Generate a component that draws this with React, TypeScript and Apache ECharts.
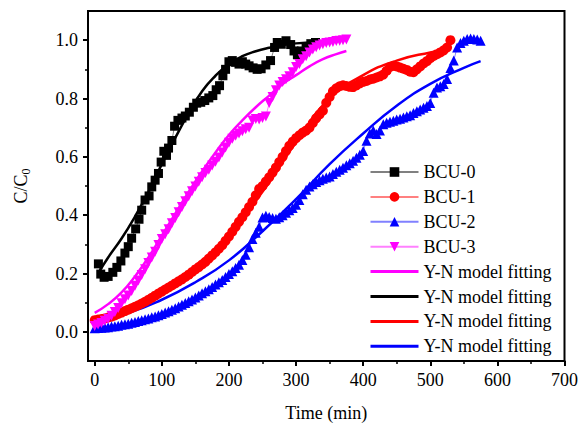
import React, { useEffect, useRef } from 'react';
import * as echarts from 'echarts';

// ---- tick labels ----
const xMajorTicks = [0, 100, 200, 300, 400, 500, 600, 700];
const xMinorTicks = [50, 150, 250, 350, 450, 550, 650];
const yMajorTicks = [0, 0.2, 0.4, 0.6, 0.8, 1.0];
const yMinorTicks = [0.1, 0.3, 0.5, 0.7, 0.9];

// ---- measured data [time (min), C/C0] ----
const bcu0: [number, number][] = [
  [5.5, 0.233], [9, 0.198], [14, 0.187], [20, 0.19], [27, 0.204], [33, 0.221], [39, 0.243], [45, 0.27],
  [50, 0.292], [55, 0.321], [61, 0.353], [66, 0.386], [70, 0.417], [75, 0.452], [81, 0.466], [85, 0.497],
  [90, 0.52], [95, 0.543], [99, 0.582], [103, 0.619], [107, 0.605], [110, 0.63], [115, 0.656], [119, 0.705],
  [124, 0.725], [130, 0.733], [135, 0.74], [141, 0.753], [147, 0.77], [152, 0.784], [158, 0.787], [164, 0.793],
  [170, 0.802], [176, 0.81], [181, 0.83], [186, 0.844], [191, 0.878], [195, 0.9], [200, 0.926], [205, 0.93],
  [210, 0.924], [215, 0.918], [220, 0.926], [225, 0.918], [230, 0.912], [236, 0.905], [242, 0.9], [248, 0.902],
  [255, 0.915], [262, 0.93], [268, 0.975], [272, 0.992], [278, 0.986], [285, 0.998], [292, 0.985], [297, 0.963],
  [302, 0.95], [308, 0.963], [315, 0.978], [322, 0.988], [329, 0.992],
];

const bcu1: [number, number][] = [
  [0, 0.04], [5, 0.042], [10, 0.044], [15, 0.046], [20, 0.049], [25, 0.052], [30, 0.056], [35, 0.061],
  [40, 0.066], [45, 0.071], [50, 0.076], [55, 0.081], [60, 0.086], [65, 0.091], [70, 0.097], [75, 0.103],
  [80, 0.11], [85, 0.117], [90, 0.124], [95, 0.131], [100, 0.138], [105, 0.145], [110, 0.152], [115, 0.159],
  [120, 0.166], [125, 0.173], [130, 0.18], [135, 0.188], [140, 0.196], [145, 0.205], [150, 0.214], [155, 0.222],
  [160, 0.231], [165, 0.24], [170, 0.251], [175, 0.262], [180, 0.273], [185, 0.285], [190, 0.297], [195, 0.312],
  [200, 0.327], [205, 0.343], [210, 0.36], [215, 0.377], [220, 0.393], [225, 0.41], [230, 0.428], [235, 0.446],
  [240, 0.468], [245, 0.49], [250, 0.5], [255, 0.515], [260, 0.53], [265, 0.546], [270, 0.563], [275, 0.582],
  [280, 0.6], [285, 0.62], [290, 0.638], [295, 0.652], [300, 0.664], [305, 0.674], [310, 0.683], [315, 0.69],
  [320, 0.7], [325, 0.716], [330, 0.732], [335, 0.745], [340, 0.758], [345, 0.785], [350, 0.805], [355, 0.825],
  [360, 0.835], [365, 0.842], [370, 0.845], [375, 0.843], [380, 0.84], [385, 0.839], [390, 0.845], [395, 0.852],
  [400, 0.857], [405, 0.86], [410, 0.865], [415, 0.868], [420, 0.872], [425, 0.876], [430, 0.882], [435, 0.895],
  [440, 0.908], [445, 0.912], [450, 0.91], [455, 0.906], [460, 0.902], [465, 0.898], [470, 0.892], [475, 0.89],
  [480, 0.9], [485, 0.91], [490, 0.92], [495, 0.928], [500, 0.938], [505, 0.946], [510, 0.952], [515, 0.958],
  [520, 0.965], [525, 0.975], [530, 1.0],
];

const bcu2: [number, number][] = [
  [0, 0.012], [5, 0.013], [10, 0.014], [15, 0.015], [20, 0.016], [25, 0.018], [30, 0.019], [35, 0.021],
  [40, 0.024], [45, 0.026], [50, 0.028], [55, 0.031], [60, 0.034], [65, 0.037], [70, 0.04], [75, 0.043],
  [80, 0.046], [85, 0.05], [90, 0.053], [95, 0.057], [100, 0.061], [105, 0.066], [110, 0.071], [115, 0.076],
  [120, 0.081], [125, 0.087], [130, 0.093], [135, 0.099], [140, 0.105], [145, 0.111], [150, 0.118], [155, 0.125],
  [160, 0.132], [165, 0.139], [170, 0.146], [175, 0.154], [180, 0.162], [185, 0.17], [190, 0.178], [195, 0.188],
  [200, 0.198], [205, 0.208], [210, 0.219], [215, 0.23], [220, 0.246], [225, 0.264], [230, 0.29], [235, 0.318],
  [240, 0.34], [245, 0.36], [250, 0.392], [255, 0.398], [260, 0.394], [265, 0.39], [270, 0.388], [275, 0.393],
  [280, 0.4], [285, 0.408], [290, 0.417], [295, 0.425], [300, 0.436], [305, 0.452], [310, 0.472], [315, 0.487],
  [320, 0.498], [325, 0.506], [330, 0.514], [335, 0.52], [340, 0.525], [345, 0.529], [350, 0.533], [355, 0.541],
  [360, 0.549], [365, 0.556], [370, 0.563], [375, 0.571], [380, 0.578], [385, 0.587], [390, 0.597], [395, 0.607],
  [400, 0.62], [405, 0.655], [410, 0.68], [415, 0.69], [420, 0.678], [425, 0.69], [430, 0.712], [435, 0.717],
  [440, 0.72], [445, 0.724], [450, 0.728], [455, 0.731], [460, 0.735], [465, 0.739], [470, 0.743], [475, 0.75],
  [480, 0.756], [485, 0.762], [490, 0.768], [495, 0.774], [500, 0.785], [505, 0.82], [510, 0.838], [515, 0.842],
  [520, 0.85], [525, 0.867], [530, 0.905], [535, 0.93], [540, 0.975], [545, 0.99], [550, 0.998], [555, 1.004],
  [560, 1.006], [565, 1.004], [570, 1.002], [575, 0.998],
];

const bcu3: [number, number][] = [
  [0, 0.02], [5, 0.025], [10, 0.03], [15, 0.038], [20, 0.045], [25, 0.055], [30, 0.068], [35, 0.082],
  [40, 0.098], [45, 0.112], [50, 0.125], [55, 0.14], [60, 0.158], [65, 0.176], [70, 0.195], [75, 0.215],
  [80, 0.236], [85, 0.255], [90, 0.275], [95, 0.298], [100, 0.318], [105, 0.335], [110, 0.352], [115, 0.372],
  [120, 0.39], [125, 0.41], [130, 0.428], [135, 0.448], [140, 0.465], [145, 0.482], [150, 0.498], [155, 0.515],
  [160, 0.53], [165, 0.545], [170, 0.556], [175, 0.57], [180, 0.583], [185, 0.598], [190, 0.615], [195, 0.632],
  [200, 0.648], [205, 0.662], [210, 0.672], [215, 0.68], [220, 0.688], [225, 0.695], [230, 0.7], [235, 0.725],
  [240, 0.73], [245, 0.728], [250, 0.733], [255, 0.738], [260, 0.785], [265, 0.805], [270, 0.828], [275, 0.845],
  [280, 0.857], [285, 0.866], [290, 0.876], [295, 0.89], [300, 0.908], [305, 0.918], [310, 0.935], [315, 0.945],
  [320, 0.958], [325, 0.968], [330, 0.976], [335, 0.982], [340, 0.986], [345, 0.99], [350, 0.992], [355, 0.994],
  [360, 0.997], [365, 0.998], [370, 1.0], [375, 1.002],
];

// ---- Y-N model fitting curves [time (min), C/C0] ----
const fit3: [number, number][] = [
  [0, 0.065], [20, 0.095], [40, 0.135], [60, 0.19], [80, 0.255], [100, 0.33], [120, 0.405], [140, 0.48],
  [160, 0.55], [180, 0.615], [200, 0.675], [220, 0.725], [240, 0.77], [260, 0.81], [280, 0.85], [300, 0.88],
  [320, 0.91], [340, 0.935], [360, 0.952], [375, 0.963],
];
const fit0: [number, number][] = [
  [5, 0.2], [20, 0.255], [40, 0.32], [60, 0.395], [80, 0.48], [100, 0.575], [120, 0.665], [140, 0.75],
  [160, 0.825], [180, 0.878], [200, 0.918], [220, 0.945], [240, 0.962], [260, 0.974], [280, 0.983], [300, 0.989],
  [329, 0.993],
];
const fit1: [number, number][] = [
  [0, 0.045], [50, 0.075], [100, 0.14], [150, 0.225], [200, 0.335], [250, 0.48], [300, 0.65], [350, 0.8],
  [400, 0.88], [450, 0.93], [500, 0.958], [530, 0.97],
];
const fit2: [number, number][] = [
  [0, 0.04], [50, 0.065], [100, 0.11], [150, 0.17], [200, 0.245], [250, 0.345], [300, 0.455], [350, 0.575],
  [400, 0.68], [450, 0.775], [500, 0.85], [550, 0.905], [575, 0.928],
];

const FONT = 'Liberation Serif';
const FIT_LABEL = 'Y-N model fitting';
const dataNames = ['BCU-0', 'BCU-1', 'BCU-2', 'BCU-3'];
const fitNames = ['fit-BCU-3', 'fit-BCU-0', 'fit-BCU-1', 'fit-BCU-2'];

export default function App() {
  const ref = useRef<HTMLDivElement>(null);
  useEffect(() => {
    const chart = echarts.init(ref.current!, null, { renderer: 'svg' });
    const dataSeries = (name: string, data: [number, number][], color: string, lineColor: string, symbol: string, size: number) => ({
      name,
      type: 'line',
      data,
      xAxisIndex: 0,
      yAxisIndex: 0,
      symbol,
      symbolSize: size,
      showSymbol: true,
      showAllSymbol: true,
      itemStyle: { color },
      lineStyle: { color: lineColor, width: 1 },
      emphasis: { disabled: true },
    });
    const fitSeries = (name: string, data: [number, number][], color: string) => ({
      name,
      type: 'line',
      data,
      xAxisIndex: 0,
      yAxisIndex: 0,
      smooth: true,
      symbol: 'none',
      showSymbol: false,
      itemStyle: { color },
      lineStyle: { color, width: 2.5 },
      emphasis: { disabled: true },
    });
    chart.setOption({
      animation: false,
      backgroundColor: '#ffffff',
      grid: { left: 88, right: 15, top: 11, bottom: 65, show: true, borderColor: '#000', borderWidth: 2, backgroundColor: 'transparent' },
      legend: {
        orient: 'vertical',
        left: 364,
        top: 158,
        itemWidth: 48,
        itemHeight: 12,
        itemGap: 6.9,
        data: [
          ...dataNames.map((n) => ({ name: n })),
          ...fitNames.map((n) => ({ name: n, itemStyle: { opacity: 0 }, lineStyle: { width: 3, opacity: 1 } })),
        ],
        formatter: (n: string) => (n.startsWith('fit-') ? FIT_LABEL : n),
        textStyle: { fontFamily: FONT, fontSize: 18, color: '#000' },
        selectedMode: false,
      },
      xAxis: [
        {
          type: 'value', min: -10, max: 700, position: 'bottom',
          axisLine: { show: true, onZero: false, lineStyle: { color: '#000', width: 2 } },
          axisTick: { show: true, customValues: xMajorTicks, length: 5, lineStyle: { color: '#000', width: 2 } },
          axisLabel: { customValues: xMajorTicks, fontFamily: FONT, fontSize: 18, color: '#000', margin: 10 },
          splitLine: { show: false },
          name: 'Time (min)', nameLocation: 'middle', nameGap: 43,
          nameTextStyle: { fontFamily: FONT, fontSize: 18, color: '#000' },
        },
        {
          type: 'value', min: -10, max: 700, position: 'bottom',
          axisLine: { show: false, onZero: false },
          axisTick: { show: true, customValues: xMinorTicks, length: 3, lineStyle: { color: '#000', width: 1.5 } },
          axisLabel: { show: false },
          splitLine: { show: false },
        },
      ],
      yAxis: [
        {
          type: 'value', min: -0.1, max: 1.1, position: 'left',
          axisLine: { show: true, onZero: false, lineStyle: { color: '#000', width: 2 } },
          axisTick: { show: true, customValues: yMajorTicks, length: 5, lineStyle: { color: '#000', width: 2 } },
          axisLabel: { customValues: yMajorTicks, formatter: (v: number) => v.toFixed(1), fontFamily: FONT, fontSize: 18, color: '#000', margin: 10 },
          splitLine: { show: false },
          name: '{a|C/C}{b|0}', nameLocation: 'middle', nameGap: 58, nameRotate: 90,
          nameTextStyle: {
            fontFamily: FONT, fontSize: 18, color: '#000',
            rich: {
              a: { fontFamily: FONT, fontSize: 18, color: '#000', lineHeight: 22, verticalAlign: 'bottom' },
              b: { fontFamily: FONT, fontSize: 12, color: '#000', lineHeight: 12, verticalAlign: 'bottom', padding: [0, 0, -2, 0] },
            },
          },
        },
        {
          type: 'value', min: -0.1, max: 1.1, position: 'left',
          axisLine: { show: false, onZero: false },
          axisTick: { show: true, customValues: yMinorTicks, length: 3, lineStyle: { color: '#000', width: 1.5 } },
          axisLabel: { show: false },
          splitLine: { show: false },
        },
      ],
      series: [
        dataSeries('BCU-0', bcu0, '#000000', '#808080', 'rect', 9),
        dataSeries('BCU-1', bcu1, '#ff0000', '#ff8080', 'circle', 10),
        dataSeries('BCU-2', bcu2, '#0000ff', '#8080ff', 'triangle', 10),
        dataSeries('BCU-3', bcu3, '#ff00ff', '#ff80ff', 'path://M0,0L10,0L5,9Z', 10),
        fitSeries('fit-BCU-3', fit3, '#ff00ff'),
        fitSeries('fit-BCU-0', fit0, '#000000'),
        fitSeries('fit-BCU-1', fit1, '#ff0000'),
        fitSeries('fit-BCU-2', fit2, '#0000ff'),
      ],
    });
    return () => chart.dispose();
  }, []);
  return <div ref={ref} style={{ position: 'absolute', left: 0, top: 0, width: 581, height: 427, background: '#fff' }} />;
}
